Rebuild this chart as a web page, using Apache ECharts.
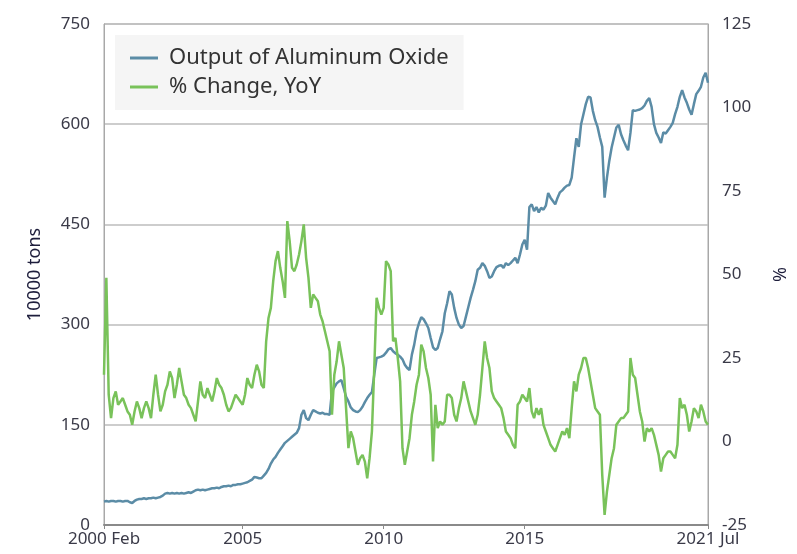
<!DOCTYPE html>
<html>
<head>
<meta charset="utf-8">
<script src="https://cdn.jsdelivr.net/npm/echarts@6/dist/echarts.min.js"></script>
<style>
html, body { margin: 0; padding: 0; background: #fff; }
#chart { width: 797px; height: 554px; }
</style>
</head>
<body>
<div id="chart"></div>
<script>
// monthly, 2000 Feb .. 2021 Jul
var months = [];
for (var y = 2000; y <= 2021; y++) {
    for (var m = 1; m <= 12; m++) {
        if (y === 2000 && m < 2) continue;
        if (y === 2021 && m > 7) break;
        months.push(y + '-' + (m < 10 ? '0' + m : m));
    }
}

var tickIndex = [0, 59, 119, 179, 257];
var tickText = ['2000 Feb', '2005', '2010', '2015', '2021 Jul'];

// 10000 tons
var output = [
    35, 36, 35, 36, 36, 35, 36, 36, 35, 36, 36,
    34, 33, 36, 38, 39, 39, 40, 39, 40, 40, 41, 40,
    41, 42, 44, 47, 48, 47, 48, 47, 48, 47, 48, 47,
    48, 49, 48, 50, 52, 53, 52, 53, 52, 53, 54, 55,
    55, 56, 55, 57, 58, 58, 59, 58, 60, 60, 61, 61,
    62, 63, 64, 66, 68, 72, 71, 70, 70, 74, 78, 84,
    92, 98, 102, 108, 113, 118, 123, 126, 129, 132, 135, 138,
    145, 165, 172, 160, 157, 165, 172, 170, 168, 167, 168, 166,
    166, 165, 200, 206, 212, 215, 217, 205, 192, 185, 176, 172,
    170, 169, 172, 177, 184, 190, 195, 199, 225, 250, 251, 252,
    254, 258, 263, 265, 260, 257, 255, 252, 248, 240, 235, 232,
    255, 270, 290, 302, 311, 308, 302, 295, 280, 266, 262, 265,
    278, 290, 317, 332, 350, 345, 325, 310, 300, 295, 298, 312,
    326, 340, 352, 365, 382, 385, 392, 388, 380, 370, 372, 380,
    386, 388, 389, 385, 392, 389, 392, 396, 400, 392, 405, 420,
    427, 412, 476, 480, 470, 476, 468, 475, 472, 478, 497, 490,
    485, 480, 490, 498, 501, 505, 508, 509, 520, 550, 579, 566,
    600, 615, 630, 641, 640, 620, 606, 596, 580, 566, 490, 520,
    545, 565, 580, 595, 599, 585, 576, 568, 561, 587, 621, 620,
    621, 622, 624, 628, 635, 639, 626, 600, 587, 580, 572, 588,
    586, 591, 596, 602, 615, 626, 641, 651, 640, 632, 622, 614,
    630, 645, 650, 656, 670, 677, 662
];

// % change year on year
var yoy = [
    20, 49, 14, 7, 13, 15, 11, 12, 13, 11, 9,
    8, 5, 9, 12, 10, 7, 10, 12, 10, 7, 14, 20,
    14, 9, 11, 15, 17, 21, 19, 13, 17, 22, 18, 14,
    13, 11, 10, 8, 6, 12, 18, 14, 13, 16, 14, 12,
    15, 19, 17, 16, 14, 11, 9, 10, 12, 14, 13, 12,
    11, 14, 19, 17, 16, 20, 23, 21, 17, 16, 30, 37,
    40, 48, 54, 57, 52, 48, 43, 66, 60, 52, 51, 53,
    56, 60, 65, 55, 49, 40, 44, 43, 42, 38, 36, 33,
    30, 27, 8, 20, 24, 30, 26, 22, 10, -2, 3, 1,
    -3, -7, -5, -4, -6, -11, -5, 3, 22, 43, 40, 38,
    40, 54, 53, 51, 30, 31, 25, 18, -2, -7, -3, 1,
    8, 12, 17, 20, 29, 27, 22, 19, 14, -6, 11, 4,
    6, 5, 6, 14, 14, 13, 8, 6, 10, 13, 18, 15,
    12, 9, 7, 5, 8, 14, 22, 30, 25, 22, 15, 13,
    12, 11, 10, 7, 3, 2, 1, -1, -2, 11, 12, 14,
    13, 12, 16, 9, 7, 10, 8, 10, 5, 3, 1, -1,
    -2, -3, -1, 1, 3, 2, 4, 1, 10, 18, 15, 20,
    22, 25, 25, 22, 18, 14, 10, 9, 8, -10, -22, -15,
    -10, -5, -2, 5, 6, 7, 7, 8, 9, 25, 20, 19,
    14, 9, 6, 0, 4, 3, 4, 2, -1, -4, -9, -5,
    -4, -3, -3, -4, -5, -1, 13, 10, 11, 8, 3, 6,
    10, 9, 7, 11, 9, 6, 5
];

var font = 'Noto Sans';
var labelColor = '#3a3a48';

function isTick(idx) {
    return tickIndex.indexOf(idx) >= 0;
}

var option = {
    animation: false,
    textStyle: { fontFamily: font },
    grid: {
        left: 104, right: 89, top: 24, bottom: 29,
        show: true, borderColor: '#a8a8a8', borderWidth: 1
    },
    legend: {
        data: ['Output of Aluminum Oxide', '% Change, YoY'],
        orient: 'vertical',
        left: 115, top: 35,
        padding: [12, 15, 12, 15],
        itemGap: 7,
        itemWidth: 28,
        itemHeight: 3,
        icon: 'rect',
        backgroundColor: '#f5f5f5',
        textStyle: { fontFamily: font, fontSize: 22, lineHeight: 22, color: '#333', padding: [0, 0, 0, 6] }
    },
    xAxis: {
        type: 'category',
        data: months,
        boundaryGap: false,
        axisLine: { lineStyle: { color: '#8a8a8a', width: 2 } },
        axisTick: { interval: function (idx) { return isTick(idx); }, length: 4, lineStyle: { color: '#8a8a8a' } },
        axisLabel: {
            interval: function (idx) { return isTick(idx); },
            formatter: function (val, idx) { return tickText[tickIndex.indexOf(idx)]; },
            fontSize: 17, color: labelColor, margin: 6,
            showMinLabel: true, showMaxLabel: true
        },
        splitLine: { show: false }
    },
    yAxis: [
        {
            type: 'value', min: 0, max: 750, interval: 150,
            name: '10000 tons', nameLocation: 'middle', nameGap: 60, nameRotate: 90,
            nameTextStyle: { fontSize: 18, color: '#1e1e3c' },
            axisLine: { show: true, lineStyle: { color: '#a8a8a8' } },
            axisTick: { show: false },
            axisLabel: { fontSize: 17, color: labelColor, margin: 14 },
            splitLine: { lineStyle: { color: '#bdbdbd', width: 1.5 } }
        },
        {
            type: 'value', min: -25, max: 125, interval: 25,
            name: '%', nameLocation: 'middle', nameGap: 61, nameRotate: -90,
            nameTextStyle: { fontSize: 18, color: '#1e1e3c' },
            axisLine: { show: true, lineStyle: { color: '#a8a8a8' } },
            axisTick: { show: false },
            axisLabel: { fontSize: 17, color: labelColor, margin: 14 },
            splitLine: { show: false }
        }
    ],
    series: [
        {
            name: 'Output of Aluminum Oxide',
            type: 'line',
            yAxisIndex: 0,
            data: output,
            symbol: 'none',
            color: '#5b8ca6',
            lineStyle: { width: 2.5, color: '#5b8ca6' }
        },
        {
            name: '% Change, YoY',
            type: 'line',
            yAxisIndex: 1,
            data: yoy,
            symbol: 'none',
            color: '#79c25a',
            lineStyle: { width: 2.5, color: '#79c25a' }
        }
    ]
};

var myChart = echarts.init(document.getElementById('chart'));
myChart.setOption(option);
window.addEventListener('resize', function () {
    myChart.resize();
});
</script>
</body>
</html>
